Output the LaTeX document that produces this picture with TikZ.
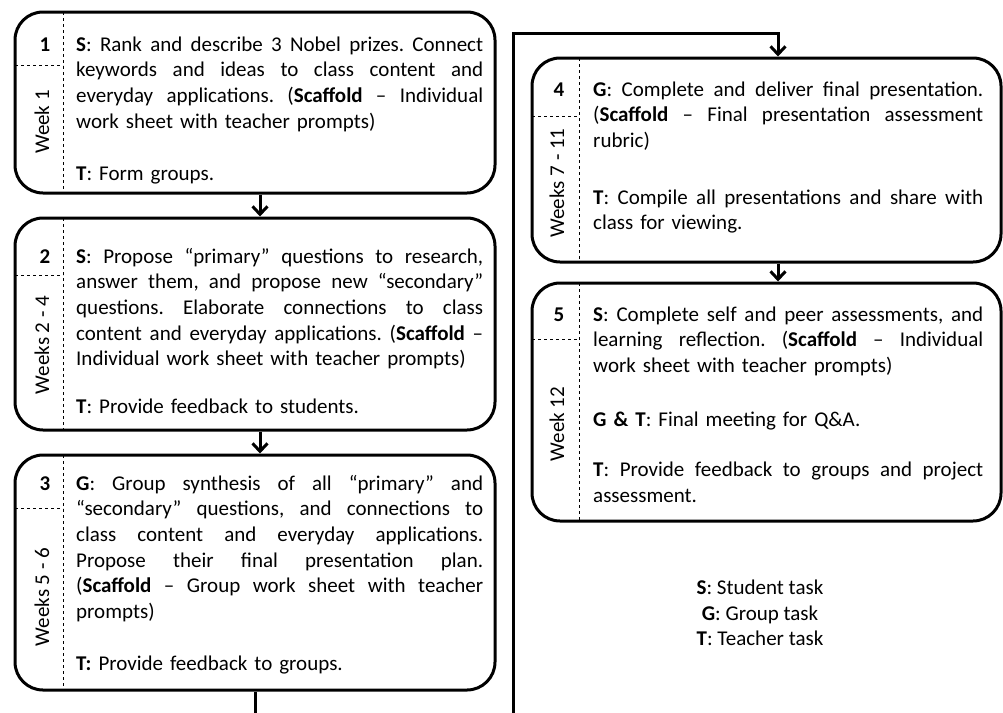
\documentclass[tikz,border=0pt]{standalone}
\usepackage{fontspec}
\setmainfont{Carlito}
\usetikzlibrary{arrows.meta}
\newlength\lw
\newcommand\jline[1]{\noindent\hbox to\lw{\spaceskip=\fontdimen2\font plus 1fil minus 0.05em\xspaceskip=\spaceskip\strut #1}\par}
\newcommand\nline[1]{\noindent\strut #1\par}
\newcommand\bgap[1]{\vskip #1pt}
\tikzset{
  boxshape/.style={draw, line width=3pt, rounded corners=28pt, inner sep=0pt},
  txt/.style={anchor=base west, inner sep=0pt, font=\fontsize{21}{25.7}\selectfont\frenchspacing},
  lbl/.style={inner sep=0pt, font=\fontsize{21}{25.7}\selectfont},
  num/.style={inner sep=0pt, font=\fontsize{21}{25.7}\selectfont\bfseries},
  wk/.style={inner sep=0pt, rotate=90, font=\fontsize{21}{25.7}\selectfont},
  dsh/.style={line width=1pt, dash pattern=on 3pt off 3pt},
  conn/.style={line width=3pt},
  arr/.style={line width=3pt, -{Straight Barb[length=8pt,width=15pt]}}
}
\begin{document}
\begin{tikzpicture}[x=1pt, y=-1pt]
\useasboundingbox (0,0) rectangle (1003,712);
\clip (0,0) rectangle (1003,712);
% boxes
\node[boxshape, minimum width=480pt, minimum height=181pt] (b1) at (255,102.5) {};
\node[boxshape, minimum width=480pt, minimum height=212pt] (b2) at (255,324) {};
\node[boxshape, minimum width=480pt, minimum height=235pt] (b3) at (255,572.5) {};
\node[boxshape, minimum width=469pt, minimum height=204pt] (b4) at (766.5,160) {};
\node[boxshape, minimum width=469pt, minimum height=238pt] (b5) at (766.5,402) {};
% dashed separators
\draw[dsh] (63,12) -- (63,193);
\draw[dsh] (15,65) -- (63,65);
\draw[dsh] (63,218) -- (63,430);
\draw[dsh] (15,275) -- (63,275);
\draw[dsh] (63,455) -- (63,690);
\draw[dsh] (15,508) -- (63,508);
\draw[dsh] (579,58) -- (579,262);
\draw[dsh] (532,116) -- (579,116);
\draw[dsh] (579,283) -- (579,521);
\draw[dsh] (532,339) -- (579,339);
% numbers and weeks
\node[num] (n1) at (45,45) {1};
\node[num] (n2) at (45,257) {2};
\node[num] (n3) at (45,484) {3};
\node[num] (n4) at (559,90) {4};
\node[num] (n5) at (559,315) {5};
\node[wk] (w1) at (42,122) {Week 1};
\node[wk] (w2) at (42,345) {Weeks 2 - 4};
\node[wk] (w3) at (42,597) {Weeks 5 - 6};
\node[wk] (w4) at (557,183) {Weeks 7 - 11};
\node[wk] (w5) at (557,424) {Week 12};
% texts
\node[txt, text width=407pt] (t1) at (76,51) {\setlength\lw{407pt}%
\jline{\textbf{S}: Rank and describe 3 Nobel prizes. Connect}
\jline{keywords and ideas to class content and}
\jline{everyday applications. (\textbf{Scaffold} – Individual}
\nline{work sheet with teacher prompts)}
\bgap{27}
\nline{\textbf{T}: Form groups.}};
\node[txt, text width=407pt] (t2) at (76,263) {\setlength\lw{407pt}%
\jline{\textbf{S}: Propose “primary” questions to research,}
\jline{answer them, and propose new “secondary”}
\jline{questions. Elaborate connections to class}
\jline{content and everyday applications. (\textbf{Scaffold} –}
\nline{Individual work sheet with teacher prompts)}
\bgap{22}
\nline{\textbf{T}: Provide feedback to students.}};
\node[txt, text width=407pt] (t3) at (76,490) {\setlength\lw{407pt}%
\jline{\textbf{G}: Group synthesis of all “primary” and}
\jline{“secondary” questions, and connections to}
\jline{class content and everyday applications.}
\jline{Propose their final presentation plan.}
\jline{(\textbf{Scaffold} – Group work sheet with teacher}
\nline{prompts)}
\bgap{26}
\nline{\textbf{T:} Provide feedback to groups.}};
\node[txt, text width=390pt] (t4) at (593,96) {\setlength\lw{390pt}%
\jline{\textbf{G}: Complete and deliver final presentation.}
\jline{(\textbf{Scaffold} – Final presentation assessment}
\nline{rubric)}
\bgap{31}
\jline{\textbf{T}: Compile all presentations and share with}
\nline{class for viewing.}};
\node[txt, text width=390pt] (t5) at (593,321) {\setlength\lw{390pt}%
\jline{\textbf{S}: Complete self and peer assessments, and}
\jline{learning reflection. (\textbf{Scaffold} – Individual}
\nline{work sheet with teacher prompts)}
\bgap{28}
\nline{\textbf{G \& T}: Final meeting for Q\&A.}
\bgap{25}
\jline{\textbf{T}: Provide feedback to groups and project}
\nline{assessment.}};
% legend
\node[lbl, align=center] (leg) at (760,613) {\textbf{S}: Student task\\ \textbf{G}: Group task\\ \textbf{T}: Teacher task};
% connectors
\draw[arr] ([xshift=5pt]b1.south) -- ([xshift=5pt]b2.north);
\draw[arr] ([xshift=5pt]b2.south) -- ([xshift=5pt]b3.north);
\draw[arr] ([xshift=11.5pt]b4.south) -- ([xshift=11.5pt]b5.north);
\coordinate (low) at (255,740);
\coordinate (up) at (513,33);
\draw[arr] (b3.south) -- (b3.south |- low) -| (up) -| ([xshift=11.5pt]b4.north);
\end{tikzpicture}
\end{document}
